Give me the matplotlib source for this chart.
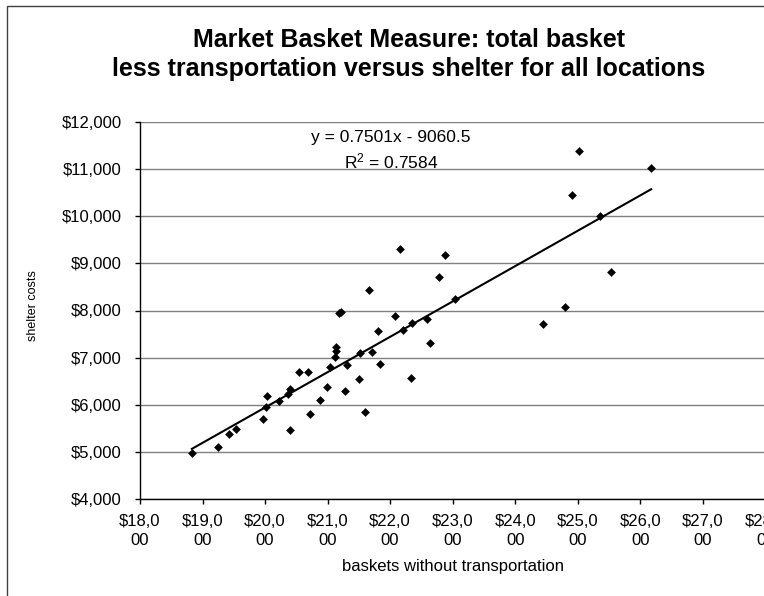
import matplotlib
matplotlib.use("Agg")
import matplotlib.pyplot as plt
from matplotlib.patches import Rectangle
import numpy as np

plt.rcParams['font.family'] = ['Liberation Sans', 'DejaVu Sans']
plt.rcParams['mathtext.fontset'] = 'custom'
plt.rcParams['mathtext.rm'] = 'Liberation Sans'
plt.rcParams['mathtext.it'] = 'Liberation Sans'

# basket cost without transportation vs. shelter cost, one point per location
basket = [18830, 19250, 19420, 19530, 19965, 20010, 20025, 20225, 20370, 20395,
          20395, 20540, 20680, 20715, 20880, 20990, 21035, 21115, 21130, 21140,
          21180, 21210, 21280, 21310, 21505, 21525, 21600, 21705, 21805, 21835,
          22075, 22200, 22335, 22350, 22585, 22630, 22155, 22885, 21655, 22785,
          23030, 25020, 26175, 24905, 25360, 25530, 24795, 24440]
shelter = [4980, 5110, 5370, 5480, 5700, 5945, 6180, 6080, 6225, 6330,
           5470, 6695, 6695, 5800, 6110, 6385, 6795, 7020, 7140, 7235,
           7940, 7965, 6285, 6845, 6540, 7100, 5855, 7120, 7560, 6875,
           7890, 7590, 6570, 7745, 7815, 7305, 9300, 9175, 8425, 8715,
           8245, 11390, 11030, 10450, 10010, 8815, 8070, 7720]

slope = 0.7501
intercept = -9060.5
r_squared = 0.7584

x_ticks = list(range(18000, 28001, 1000))
x_tick_labels = ['$18,0\n00', '$19,0\n00', '$20,0\n00', '$21,0\n00', '$22,0\n00',
                 '$23,0\n00', '$24,0\n00', '$25,0\n00', '$26,0\n00', '$27,0\n00',
                 '$28,0\n00']
y_ticks = list(range(4000, 12001, 1000))
y_tick_labels = ['$4,000', '$5,000', '$6,000', '$7,000', '$8,000',
                 '$9,000', '$10,000', '$11,000', '$12,000']

fig = plt.figure(figsize=(7.64, 5.96), dpi=100)

# chart area border
fig.patches.append(Rectangle((6.5 / 764, -0.1), 2.0, (596 - 5.5) / 596 + 0.1,
                             transform=fig.transFigure, fill=False,
                             edgecolor='#404040', linewidth=1.0))

ax = fig.add_axes([140 / 764, 97 / 596, 625.3 / 764, 377 / 596])

ax.scatter(basket, shelter, marker='D', s=20, color='black', zorder=3,
           linewidths=0)

xs = np.array([min(basket), max(basket)])
ax.plot(xs, slope * xs + intercept, color='black', linewidth=1.5, zorder=2)

ax.set_xlim(18000, 28000)
ax.set_ylim(4000, 12000)
ax.set_xticks(x_ticks)
ax.set_xticklabels(x_tick_labels, fontsize=12, linespacing=1.3)
ax.set_yticks(y_ticks)
ax.set_yticklabels(y_tick_labels, fontsize=12)
ax.tick_params(axis='y', direction='out', length=3.6, width=1, pad=9.5)
ax.tick_params(axis='x', direction='out', length=3.6, width=1, pad=7.5)

ax.yaxis.grid(True, color='#808080', linewidth=1.0)
ax.set_axisbelow(True)
for side in ('top', 'right'):
    ax.spines[side].set_visible(False)
for side in ('left', 'bottom'):
    ax.spines[side].set_linewidth(1.0)
    ax.spines[side].set_color('black')

fig.text(409 / 764, 1 - 40 / 596, 'Market Basket Measure: total basket',
         ha='center', va='center', fontsize=18, fontweight='bold')
fig.text(409 / 764, 1 - 69 / 596,
         'less transportation versus shelter for all locations',
         ha='center', va='center', fontsize=18, fontweight='bold')

fig.text(391 / 764, 1 - 138 / 596, 'y = %.4fx - %.1f' % (slope, -intercept),
         ha='center', va='center', fontsize=12.5)
fig.text(391 / 764, 1 - 161 / 596, 'R$^{2}$ = %.4f' % r_squared,
         ha='center', va='center', fontsize=12.5)

fig.text(33 / 764, 1 - 306 / 596, 'shelter costs', rotation=90,
         ha='center', va='center', fontsize=9)
fig.text(453 / 764, 1 - 567 / 596, 'baskets without transportation',
         ha='center', va='center', fontsize=12)

fig.savefig('out.png', dpi=100)
